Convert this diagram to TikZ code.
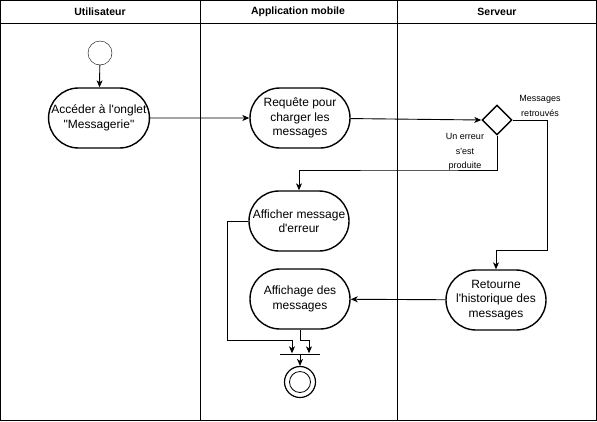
\documentclass[tikz,border=0pt]{standalone}
\usepackage{fontspec}
\setmainfont[Ligatures=TeXOff]{Liberation Sans}
\usetikzlibrary{shapes.misc,shapes.geometric,arrows.meta,positioning}
\tikzset{every node/.append style={align=center}}

\begin{document}
\begin{tikzpicture}[x=1pt, y=-1pt,
    action/.style={draw, rounded rectangle, line width=1.4pt, minimum width=100pt, minimum height=60pt, inner sep=0pt, font=\fontsize{12}{14.5}\selectfont},
    startnode/.style={draw, circle, minimum size=24pt, inner sep=0pt},
    choice/.style={draw, diamond, line width=1.4pt, minimum size=30pt, inner sep=0pt},
    joinbar/.style={fill=black, minimum width=40pt, minimum height=1pt, inner sep=0pt},
    lane/.style={font=\bfseries\fontsize{10.5}{12}\selectfont},
    guard/.style={font=\fontsize{9}{14.5}\selectfont},
    flow/.style={-{Stealth[length=7pt, width=6pt, inset=2pt]}, line width=0.9pt}
]
    \useasboundingbox (0,0) rectangle (597,421);

    % Swimlanes
    \draw[line width=0.8pt] (0.5,0.5) rectangle (596.5,420.5);
    \draw[line width=0.8pt] (0.5,23) -- (596.5,23);
    \draw[line width=0.8pt] (200,0.5) -- (200,420.5);
    \draw[line width=0.8pt] (397,0.5) -- (397,420.5);
    \node[lane] (userlane) at (100,12) {Utilisateur};
    \node[lane] (applane) at (298,12) {Application mobile};
    \node[lane] (serverlane) at (497,12) {Serveur};

    % Start and end
    \node[startnode] (start) at (100,53) {};
    \node[joinbar] (bar) at (300,354) {};
    \node[draw, circle, line width=1.2pt, minimum size=31pt, inner sep=0pt] (final) at (300,382) {};
    \node[draw, circle, line width=0.8pt, minimum size=21pt, inner sep=0pt] (finalin) at (300,382) {};

    % Actions
    \node[action] (open) at (99,118) {Accéder à l'onglet\\"Messagerie"};
    \node[action] (request) at (300,118) {Requête pour\\charger les\\messages};
    \node[choice] (check) at (497,120) {};
    \node[action] (error) at (299,221) {Afficher message\\d'erreur};
    \node[action] (show) at (300,299) {Affichage des\\messages};
    \node[action] (history) at (496,300) {Retourne\\l'historique des\\messages};

    % Guards
    \node[guard] (found) at (540,106) {Messages\\retrouvés};
    \node[guard] (failed) at (465,152) {Un erreur\\s'est\\produite};

    % Bends
    \coordinate (foundbend) at (547,250);
    \coordinate (failbend) at (420,170);
    \coordinate (errbend) at (227,340);
    \coordinate (showbend) at (300,340);

    % Flows
    \draw[flow] (start) -- (open);
    \draw[flow] (open) -- (request);
    \draw[flow] (request) -- (check.west);
    \draw[flow] (check.east) -| (foundbend) -| (history.north);
    \draw[flow] (check.south) |- (failbend) -| (error.north);
    \draw[flow] (history) -- (show);
    \draw[flow] (error.west) -| (errbend) -| ([xshift=-8pt]bar.north);
    \draw[flow] (show.south) -- (showbend) -| ([xshift=9pt]bar.north);
    \draw[flow] (bar.south) -- (final.north);
\end{tikzpicture}
\end{document}
